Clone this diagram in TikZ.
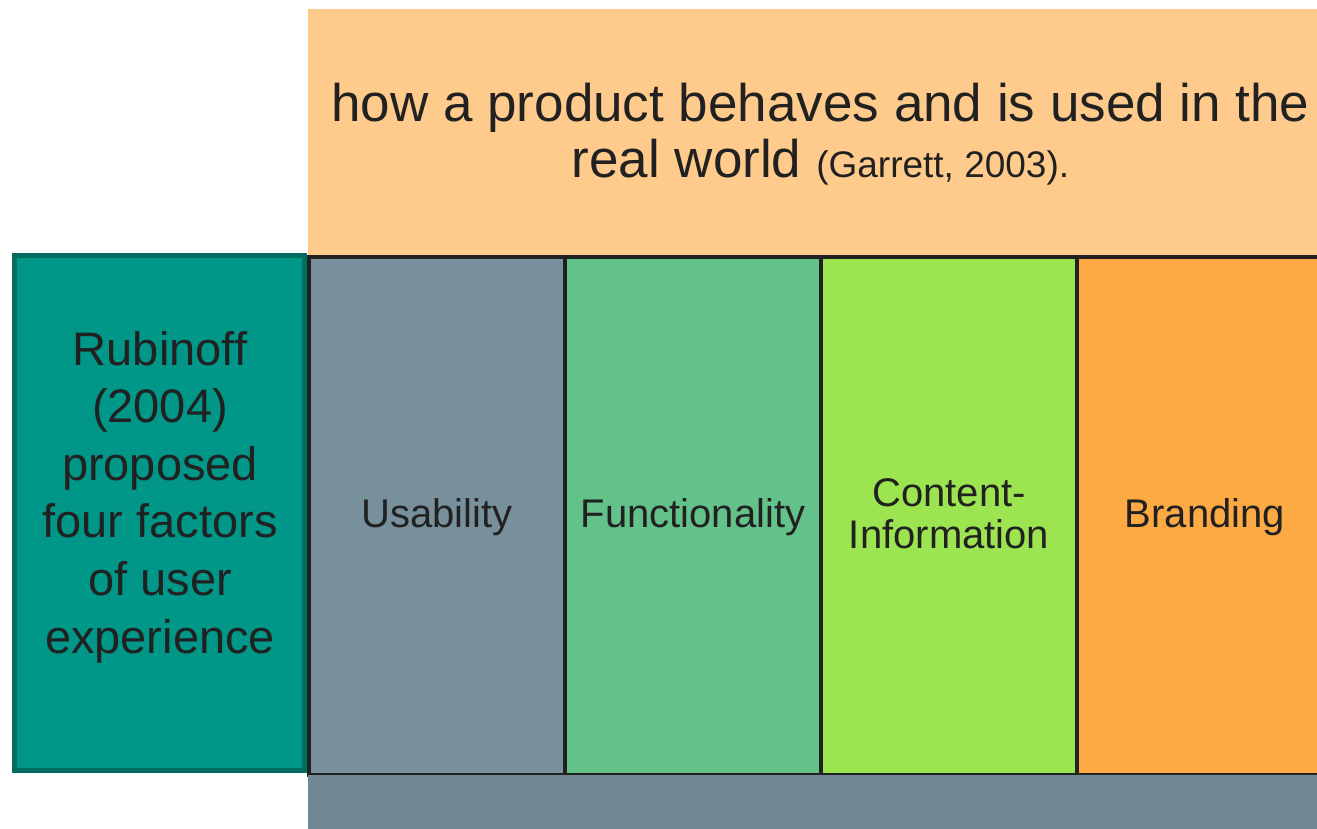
\documentclass[tikz,border=0pt]{standalone}
\usepackage{fontspec}
\setmainfont{Liberation Sans}
\definecolor{toporange}{HTML}{FECB8C}
\definecolor{colgrey}{HTML}{78909C}
\definecolor{colgreen}{HTML}{63C28A}
\definecolor{collime}{HTML}{9CE550}
\definecolor{colorange}{HTML}{FEAA44}
\definecolor{botgrey}{HTML}{718793}
\definecolor{tealfill}{HTML}{009688}
\definecolor{tealedge}{HTML}{006D5F}
\definecolor{darkline}{HTML}{212121}
\definecolor{txt}{HTML}{212121}
\begin{document}
\begin{tikzpicture}[x=1pt,y=-1pt,
  plainbox/.style={inner sep=0pt,outer sep=0pt,draw=none},
  colbox/.style={inner sep=0pt,outer sep=0pt,draw=darkline,line width=4pt,
    minimum width=256pt,minimum height=518pt},
  lbl/.style={inner sep=0pt,outer sep=0pt,text=txt,align=center},
  bigfont/.style={font=\fontsize{53}{54}\selectfont},
  tealfont/.style={font=\fontsize{47}{57.6}\selectfont},
  colfont/.style={font=\fontsize{40}{41}\selectfont}]
\useasboundingbox (0,0) rectangle (1317,828);
\clip (0,0) rectangle (1317,828);
% top band
\node[plainbox,fill=toporange,minimum width=1025pt,minimum height=246pt,anchor=north west] (top) at (308,9) {};
% four factor columns
\node[colbox,fill=colgrey]   (usab) at (437,515.5) {};
\node[colbox,fill=colgreen]  (func) at (693,515.5) {};
\node[colbox,fill=collime]   (cont) at (949,515.5) {};
\node[colbox,fill=colorange] (bran) at (1205,515.5) {};
% bottom band
\node[plainbox,fill=botgrey,minimum width=1025pt,minimum height=60pt,anchor=north west] (bottom) at (308,774.7) {};
% teal box
\node[inner sep=0pt,outer sep=0pt,draw=tealedge,line width=5pt,fill=tealfill,
  minimum width=290pt,minimum height=514.7pt] (teal) at (159.7,513.15) {};
% texts
\node[lbl,bigfont] (toptext) at (820.5,138.2)
  {\strut how a product behaves and is used in the\\\strut real world {\fontsize{37}{54}\selectfont(Garrett, 2003).}};
\node[lbl,tealfont] (tealtext) at (160,497.5)
  {\strut Rubinoff\\\strut (2004)\\\strut proposed\\\strut four factors\\\strut of user\\\strut experience};
\node[lbl,colfont,anchor=base] (usabtext) at (437,527) {Usability};
\node[lbl,colfont,anchor=base] (functext) at (693,527) {Functionality};
\node[lbl,colfont] (conttext) at (949,519.3) {\strut Content-\\\strut Information};
\node[lbl,colfont,anchor=base] (brantext) at (1205,527) {Branding};
\end{tikzpicture}
\end{document}
